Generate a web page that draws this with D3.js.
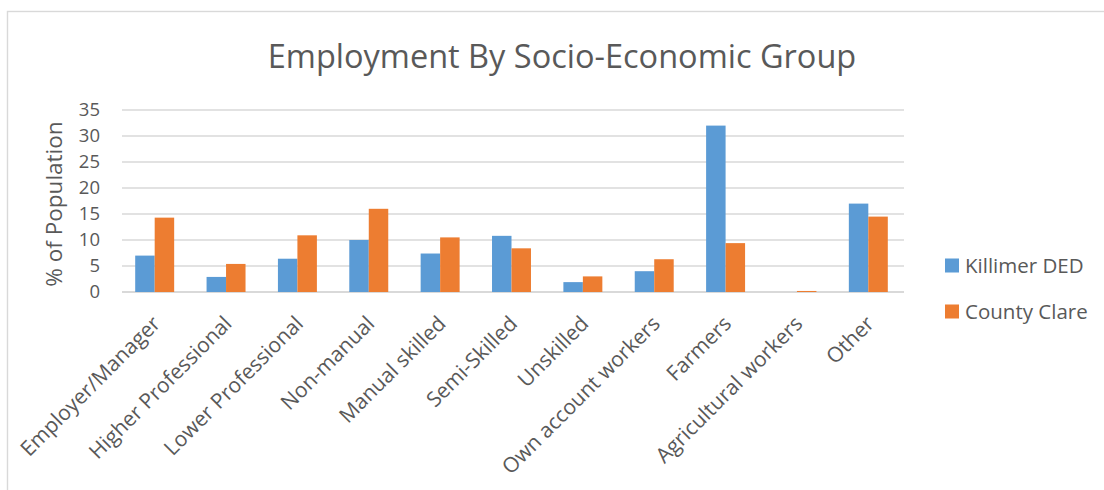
<!DOCTYPE html>
<html>
<head>
<meta charset="utf-8">
<script src="https://cdn.jsdelivr.net/npm/d3@7"></script>
<style>
  body { margin: 0; background: #fff; }
  text { font-family: "Open Sans", sans-serif; fill: #595959; }
</style>
</head>
<body>
<div id="chart"></div>
<script>
var categories = ["Employer/Manager", "Higher Professional", "Lower Professional", "Non-manual",
  "Manual skilled", "Semi-Skilled", "Unskilled", "Own account workers", "Farmers",
  "Agricultural workers", "Other"];
var killimer = [7.0, 2.9, 6.4, 10.0, 7.4, 10.8, 1.9, 4.0, 32.0, 0, 17.0];
var clare = [14.3, 5.4, 10.9, 16.0, 10.5, 8.4, 3.0, 6.3, 9.4, 0.2, 14.5];
var seriesNames = ["Killimer DED", "County Clare"];
var colors = ["#5B9BD5", "#ED7D31"];
var yTicks = [0, 5, 10, 15, 20, 25, 30, 35];

var w = 1104, h = 490;
var margin = {top: 110, left: 119, right: 200, bottom: 198};
var width = w - margin.left - margin.right,
    height = h - margin.top - margin.bottom;

var svg = d3.select("#chart").append("svg")
    .attr("width", w)
    .attr("height", h);

// outer chart frame
svg.append("rect")
    .attr("x", 7.5).attr("y", 11.5)
    .attr("width", w).attr("height", h)
    .attr("fill", "none")
    .attr("stroke", "#d9d9d9")
    .attr("stroke-width", 1.4);

svg.append("text")
    .attr("x", 562).attr("y", 68)
    .attr("text-anchor", "middle")
    .style("font-size", "32.5px")
    .text("Employment By Socio-Economic Group");

var g = svg.append("g")
    .attr("transform", "translate(" + margin.left + "," + margin.top + ")");

var x = d3.scaleBand().domain(categories).range([0, width]).paddingInner(0.454).paddingOuter(0.227);
var x1 = d3.scaleBand().domain(seriesNames).range([0, x.bandwidth()]);
var y = d3.scaleLinear().domain([0, 35]).range([height, 0]);

g.selectAll(".grid")
  .data(yTicks)
  .enter().append("line")
    .attr("x1", 3).attr("x2", width)
    .attr("y1", function(d) { return y(d); })
    .attr("y2", function(d) { return y(d); })
    .attr("stroke", "#d9d9d9")
    .attr("stroke-width", function(d) { return d === 0 ? 2 : 1.5; });

var yAxis = g.append("g")
    .call(d3.axisLeft(y).tickValues(yTicks).tickSize(0).tickPadding(19));
yAxis.select(".domain").remove();
yAxis.selectAll("text")
    .style("font-size", "18.5px")
    .attr("fill", "#595959");

var groups = g.selectAll(".cat")
  .data(categories)
  .enter().append("g")
    .attr("transform", function(d) { return "translate(" + x(d) + ",0)"; });

groups.selectAll("rect")
  .data(function(d, i) { return [killimer[i], clare[i]].map(function(v, j) { return {s: seriesNames[j], v: v, c: colors[j]}; }); })
  .enter().append("rect")
    .attr("x", function(d) { return x1(d.s); })
    .attr("width", x1.bandwidth())
    .attr("y", function(d) { return y(d.v); })
    .attr("height", function(d) { return y(0) - y(d.v); })
    .attr("fill", function(d) { return d.c; });

g.selectAll(".xlab")
  .data(categories)
  .enter().append("text")
    .attr("text-anchor", "end")
    .attr("transform", function(d) {
      return "translate(" + (x(d) + x.bandwidth() / 2 + 7) + "," + (height + 33) + ")rotate(-45)";
    })
    .style("font-size", "21px")
    .text(function(d) { return d; });

svg.append("text")
    .attr("transform", "translate(62,204)rotate(-90)")
    .attr("text-anchor", "middle")
    .style("font-size", "22.5px")
    .text("% of Population");

var legend = svg.selectAll(".leg")
  .data(seriesNames)
  .enter().append("g")
    .attr("transform", function(d, i) { return "translate(945," + (258.5 + i * 46) + ")"; });
legend.append("rect")
    .attr("width", 14).attr("height", 14)
    .attr("fill", function(d, i) { return colors[i]; });
legend.append("text")
    .attr("x", 20).attr("y", 14.5)
    .style("font-size", "20.5px")
    .text(function(d) { return d; });
</script>
</body>
</html>
